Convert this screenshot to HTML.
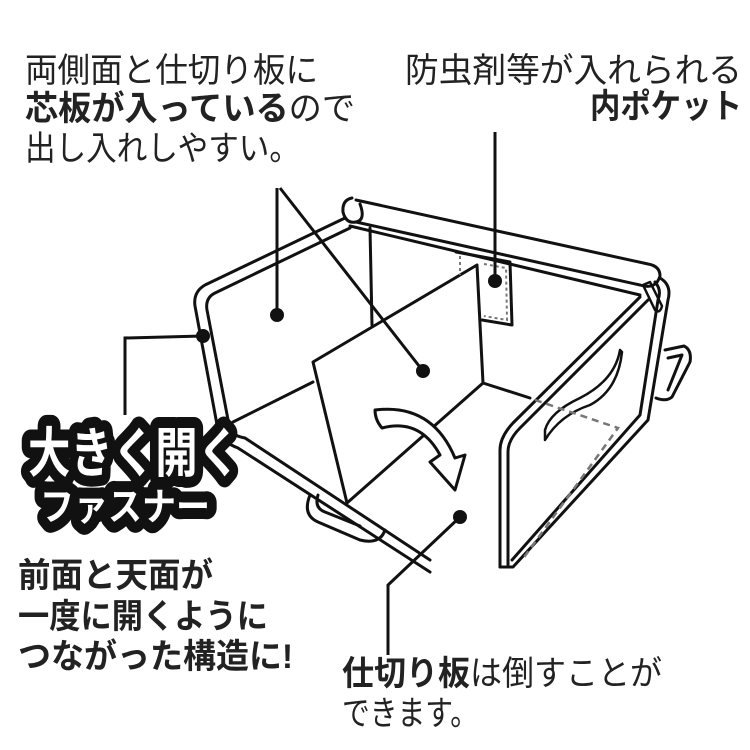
<!DOCTYPE html>
<html><head><meta charset="utf-8"><style>
html,body{margin:0;padding:0;background:#fff;}
svg{display:block}
.t{font-family:"Liberation Sans","Noto Sans CJK JP",sans-serif;}
</style></head><body>
<svg width="750" height="750" viewBox="0 0 750 750" xmlns="http://www.w3.org/2000/svg">
<g fill="none" stroke="#111" stroke-width="3" stroke-linejoin="round" stroke-linecap="round">
  <path d="M345 218 L205 285 Q193 292 195 306 L218 430"/>
  <path d="M350 228 L215 293 Q205 298 207 310 L230 430"/>
  <path d="M352 198 Q342 200 343 212 Q346 224 356 222 L640 285 Q656 290 660 276 Q660 266 648 264 L356 200"/>
  <path d="M356 222 Q366 220 360 204"/>
  <path d="M350 226 L640 295"/>
  <path d="M370 228 L372 325"/>
  <path d="M233 422 L313 382"/>
  <path d="M456 252 L510 262 L512 325 L482 320" />
  <path d="M313 362 L477 265 L483 383 L347 503 Z" fill="#fff"/>
  <path d="M483 383 L530 398"/>
  <path d="M218 430 Q222 442 238 448 L430 572"/>
  <path d="M230 430 Q234 436 245 438 L430 560"/>
  <path d="M310 495 Q302 515 318 522 L360 540 Q380 545 385 530"/>
  <path d="M318 495 Q314 508 325 512 L360 526"/>
  <path d="M640 297 L513 423 Q500 437 500 450 L500 567"/>
  <path d="M648 300 L520 428 Q508 440 508 452 L508 565"/>
  <path d="M660 278 Q672 285 668 300 L648 420 L513 567 L500 567"/>
  <path d="M655 282 Q662 290 658 300 L640 415 L512 560"/>
  <path d="M643 285 L655 310 Q660 314 662 306 L650 282 Z" stroke-width="2.5"/>
  <path d="M665 350 L684 346 Q692 350 690 362 L672 397 Q666 402 656 398"/>
  <path d="M668 358 L682 355 L668 390"/>
  <path d="M620 350 Q615 380 580 398 Q550 412 545 430 L545 440 Q560 415 590 405 Q618 390 622 352 Z" stroke-width="2.5"/>
</g>
<g fill="none" stroke="#777" stroke-width="2" stroke-dasharray="3 3">
  <path d="M460 256 L460 275 M484 264 L506 268 L507 320 L484 316"/>
</g>
<g fill="none" stroke="#777" stroke-width="2.5" stroke-dasharray="7 5">
  <path d="M535 400 L618 428 L522 560"/>
</g>
<path d="M375 410 Q375 420 382 428 Q420 418 440 455 L430 462 L455 490 L465 455 L455 458 Q432 403 375 410 Z" fill="#fff" stroke="#111" stroke-width="3" stroke-linejoin="round"/>
<g stroke="#111" stroke-width="3" fill="none">
  <path d="M277 188 L277 315"/>
  <path d="M280 188 L423 371"/>
  <path d="M495 132 L495 281"/>
  <path d="M125 415 L125 338 L203 336"/>
  <path d="M388 655 L388 585 L460 517"/>
</g>
<g fill="#111">
  <circle cx="277" cy="315" r="7"/>
  <circle cx="423" cy="371" r="7"/>
  <circle cx="495" cy="281" r="7"/>
  <circle cx="203" cy="336" r="7"/>
  <circle cx="460" cy="517" r="7"/>
</g>
<g class="t" fill="#222">
  <text x="25" y="82" font-size="34" textLength="293" lengthAdjust="spacingAndGlyphs">両側面と仕切り板に</text>
  <text x="25" y="120" font-size="34" textLength="330" lengthAdjust="spacingAndGlyphs"><tspan font-weight="bold">芯板が入っている</tspan>ので</text>
  <text x="25" y="160" font-size="34" textLength="275" lengthAdjust="spacingAndGlyphs">出し入れしやすい。</text>
  <text x="405" y="82" font-size="34" textLength="337" lengthAdjust="spacingAndGlyphs">防虫剤等が入れられる</text>
  <text x="590" y="118" font-size="34" font-weight="bold" textLength="152" lengthAdjust="spacingAndGlyphs">内ポケット</text>
  <text x="18" y="587" font-size="34" font-weight="bold" textLength="195" lengthAdjust="spacingAndGlyphs">前面と天面が</text>
  <text x="18" y="628" font-size="34" font-weight="bold" textLength="250" lengthAdjust="spacingAndGlyphs">一度に開くように</text>
  <text x="18" y="668" font-size="34" font-weight="bold" textLength="275" lengthAdjust="spacingAndGlyphs">つながった構造に!</text>
  <text x="342" y="685" font-size="34" textLength="320" lengthAdjust="spacingAndGlyphs"><tspan font-weight="bold">仕切り板</tspan>は倒すことが</text>
  <text x="342" y="725" font-size="34" textLength="136" lengthAdjust="spacingAndGlyphs">できます。</text>
</g>
<g class="t" font-weight="bold" stroke="#111" stroke-linejoin="round" paint-order="stroke" fill="#fff">
  <text x="28" y="472" font-size="54" stroke-width="22" textLength="212" lengthAdjust="spacingAndGlyphs">大きく開く</text>
  <text x="40" y="520" font-size="38" stroke-width="22" textLength="170" lengthAdjust="spacingAndGlyphs">ファスナー</text>
</g>
</svg>
</body></html>
